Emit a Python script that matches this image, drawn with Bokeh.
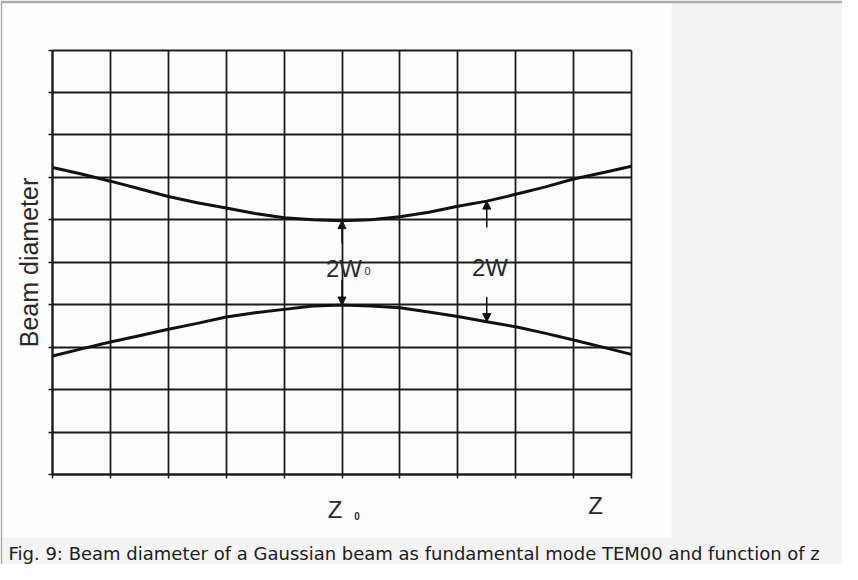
from bokeh.plotting import figure
from bokeh.models import (ColumnDataSource, Range1d, FixedTicker, BoxAnnotation,
                          Label, Arrow, NormalHead)
from bokeh.embed import file_html
from bokeh.resources import INLINE

# ---------------- data ----------------
z_positions = [0.0, 0.5, 1.0, 1.5, 2.0, 2.5, 3.0, 3.5, 4.0, 4.5, 5.0,
               5.5, 6.0, 6.5, 7.0, 7.5, 8.0, 8.5, 9.0, 9.5, 10.0]
upper_beam_edge = [7.23, 7.08, 6.91, 6.73, 6.55, 6.40, 6.28, 6.15, 6.05, 6.00, 5.98,
                   6.00, 6.07, 6.18, 6.32, 6.44, 6.60, 6.77, 6.96, 7.11, 7.26]
lower_beam_edge = [2.79, 2.96, 3.12, 3.27, 3.42, 3.56, 3.71, 3.81, 3.89, 3.97, 3.99,
                   3.97, 3.93, 3.83, 3.72, 3.60, 3.48, 3.33, 3.17, 3.00, 2.83]
grid_ticks = [0, 1, 2, 3, 4, 5, 6, 7, 8, 9, 10]
arrow_z = [5.0, 5.0, 7.5, 7.5]
arrow_tail = [5.45, 4.58, 5.82, 4.18]
arrow_tip = [5.98, 3.99, 6.44, 3.60]
y_axis_label = "Beam diameter"
waist_label = "2W"
waist_sub = "0"
width_label = "2W"
z0_label = "Z"
z0_sub = "0"
z_label = "Z"
caption_text = "Fig. 9: Beam diameter of a Gaussian beam as fundamental mode TEM00 and function of z"

# ---------------- layout (page pixels -> data) ----------------
GX0, GX1 = 60.0, 639.0      # grid left/right on page
GY0, GY1 = 482.0, 57.5      # grid bottom/top on page
SX = (GX1 - GX0) / 10.0
SY = (GY0 - GY1) / 10.0


def dx(px):
    return (px - GX0) / SX


def dy(py):
    return (GY0 - py) / SY


x_range = Range1d(dx(10), dx(850))
y_range = Range1d(dy(572), dy(11))

p = figure(width=842, height=564, x_range=x_range, y_range=y_range,
           output_backend="svg", toolbar_location=None,
           min_border_left=2, min_border_top=3, min_border_right=0, min_border_bottom=0,
           border_fill_color="#aaaaaa", background_fill_color="#f4f4f4",
           outline_line_color=None)

# white image area
p.add_layout(BoxAnnotation(left=dx(10), right=dx(679), bottom=dy(545), top=dy(11),
                           fill_color="#fdfdfd", fill_alpha=1.0, line_color=None,
                           level="image"))

INK = "#1c1c1c"
for g in (p.xgrid, p.ygrid):
    g.ticker = FixedTicker(ticks=grid_ticks)
    g.bounds = (0, 10)
    g.cross_bounds = (0, 10)
    g.grid_line_color = INK
    g.grid_line_width = 1.8
    g.grid_line_alpha = 1.0

for ax in (p.xaxis, p.yaxis):
    ax.fixed_location = 0
    ax.bounds = (0, 10)
    ax.ticker = FixedTicker(ticks=grid_ticks)
    ax.major_tick_out = 4
    ax.major_tick_in = 0
    ax.minor_tick_out = 0
    ax.minor_tick_in = 0
    ax.major_tick_line_color = INK
    ax.major_tick_line_width = 1.5
    ax.major_label_overrides = {t: "" for t in grid_ticks}
    ax.major_label_text_color = None
    ax.major_label_standoff = 0
    ax.axis_line_color = INK
    ax.axis_line_width = 2

p.yaxis.axis_label = y_axis_label
p.yaxis.axis_label_text_font = "Liberation Sans"
p.yaxis.axis_label_text_font_style = "normal"
p.yaxis.axis_label_text_font_size = "25px"
p.yaxis.axis_label_text_color = "#2a2a2a"
p.yaxis.axis_label_standoff = 6

# beam edges
p.line(z_positions, upper_beam_edge, line_width=3, line_color="#111111")
p.line(z_positions, lower_beam_edge, line_width=3, line_color="#111111")

# arrows
arrow_src = ColumnDataSource(dict(x=arrow_z, tail=arrow_tail, tip=arrow_tip))
p.add_layout(Arrow(end=NormalHead(size=8, fill_color="#111111", line_color="#111111", line_width=1),
                   x_start="x", y_start="tail", x_end="x", y_end="tip", source=arrow_src,
                   line_width=1.5, line_color="#111111"))

TXT = "#2a2a2a"


def lab(x, y, text, size, font="Liberation Sans", align="center", style="normal", color=TXT):
    p.add_layout(Label(x=x, y=y, text=text, text_align=align, text_baseline="alphabetic",
                       text_font=font, text_font_size=size, text_font_style=style,
                       text_color=color))


lab(dx(351.5), dy(276), waist_label, "24px")
lab(dx(375), dy(278), waist_sub, "11px")
lab(dx(497.5), dy(275), width_label, "24px")
lab(dx(342.5), dy(517), z0_label, "24px")
lab(dx(364.5), dy(523), z0_sub, "10px", style="bold")
lab(dx(603), dy(513), z_label, "24px")
lab(dx(16), dy(561), caption_text, "18px", font="DejaVu Sans", align="left", color="#202122")

open("out.html", "w").write(file_html(p, INLINE))
